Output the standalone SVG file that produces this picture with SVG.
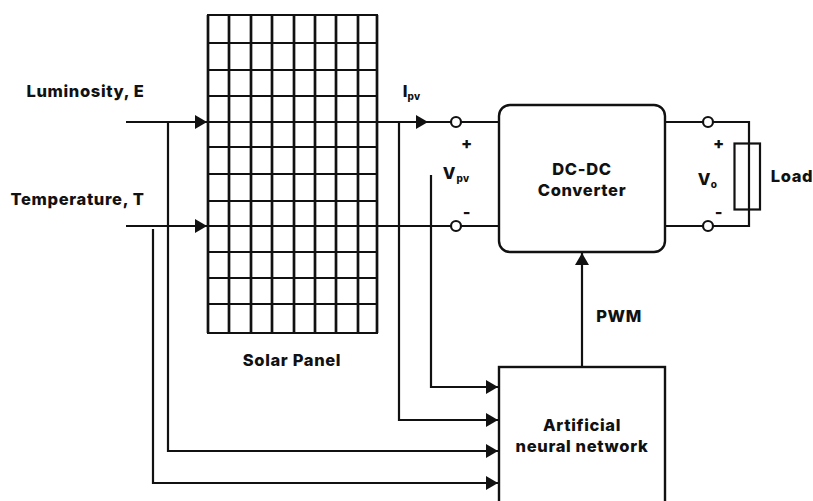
<svg xmlns="http://www.w3.org/2000/svg" width="813" height="501" viewBox="0 0 813 501">
<style>
text{font-family:"Inter","Liberation Sans",sans-serif;font-weight:800;font-size:16.5px;letter-spacing:.65px;fill:#111;text-anchor:middle}
.s{font-size:10px;letter-spacing:.4px}
.w{fill:none;stroke:#111;stroke-width:2.2}
.gv{fill:none;stroke:#111;stroke-width:2.7}
.gh{fill:none;stroke:#111;stroke-width:2.1}
.b{fill:#fff;stroke:#111;stroke-width:2.4}
.t{fill:#fff;stroke:#111;stroke-width:2.2}
</style>
<defs>
<marker id="a" markerUnits="userSpaceOnUse" markerWidth="13" markerHeight="14" refX="12" refY="7" orient="auto"><path d="M0 0L12 7L0 14Z" fill="#111"/></marker>
</defs>
<rect width="813" height="501" fill="#fff"/>
<g id="solar-panel">
<path class="gv" d="M208 15V333M229 15V333M251 15V333M272 15V333M294 15V333M315 15V333M336 15V333M358 15V333M377 15V333"/>
<path class="gh" d="M207 15H378M207 43H378M207 70H378M207 96H378M207 122H378M207 147H378M207 174H378M207 201H378M207 226H378M207 252H378M207 278H378M207 304H378M207 333H378"/>
<text x="292" y="366">Solar Panel</text>
</g>
<g id="connectors">
<path class="w" d="M126 122H207" marker-end="url(#a)"/>
<path class="w" d="M126 226H207" marker-end="url(#a)"/>
<path class="w" d="M377 122H428" marker-end="url(#a)"/>
<path class="w" d="M428 122H499M377 226H499M665 122H749V226H665"/>
<path class="w" d="M431 175V387H498" marker-end="url(#a)"/>
<path class="w" d="M399 122V420H498" marker-end="url(#a)"/>
<path class="w" d="M168 122V451H498" marker-end="url(#a)"/>
<path class="w" d="M153 229V483H498" marker-end="url(#a)"/>
<path class="w" d="M582 367V253" marker-end="url(#a)"/>
</g>
<g id="terminals">
<circle class="t" cx="456" cy="122" r="5"/>
<circle class="t" cx="456" cy="226" r="5"/>
<circle class="t" cx="708" cy="122" r="5"/>
<circle class="t" cx="708" cy="226" r="5"/>
</g>
<g id="converter">
<rect class="b" x="499" y="105" width="166" height="147" rx="11"/>
<text x="582" y="175">DC-DC</text>
<text x="582" y="196">Converter</text>
</g>
<g id="ann">
<rect class="b" x="499" y="367" width="166" height="140"/>
<text x="582" y="431">Artificial</text>
<text x="582" y="452">neural network</text>
</g>
<g id="load">
<rect x="734.500" y="143.500" width="25.500" height="66" fill="none" stroke="#111" stroke-width="2.200"/>
<text x="792" y="182">Load</text>
</g>
<g id="labels">
<text x="85.500" y="97">Luminosity, E</text>
<text x="77.500" y="205">Temperature, T</text>
<text x="405.500" y="97">I</text><text class="s" x="414" y="100">pv</text>
<text x="449.500" y="179">V</text><text class="s" x="463" y="182">pv</text>
<text x="704.500" y="185">V</text><text class="s" x="714" y="188">o</text>
<text x="467" y="149">+</text><text x="467" y="218">-</text>
<text x="719" y="149">+</text><text x="719" y="218">-</text>
<text x="619" y="322">PWM</text>
</g>
</svg>
